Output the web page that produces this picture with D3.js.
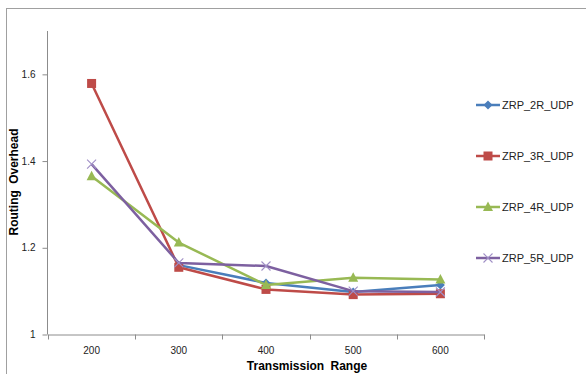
<!DOCTYPE html>
<html lang="en">
	<head>
		<meta charset="utf-8">
		<title>Routing Overhead</title>
		<script src="https://d3js.org/d3.v7.min.js"></script>
		<style>
			body { margin: 0; background: #fff; }
			text { font-family: "Liberation Sans", Arial, sans-serif; }
		</style>
	</head>
	<body>
		<div id="chart"></div>
		<script>
			// data
			var ranges = [200, 300, 400, 500, 600];
			var seriesNames = ['ZRP_2R_UDP', 'ZRP_3R_UDP', 'ZRP_4R_UDP', 'ZRP_5R_UDP'];
			var zrp2r = [null, 1.160, 1.119, 1.098, 1.114];
			var zrp3r = [1.579, 1.155, 1.104, 1.092, 1.094];
			var zrp4r = [1.365, 1.212, 1.114, 1.131, 1.127];
			var zrp5r = [1.393, 1.165, 1.158, 1.100, 1.098];
			var yTicks = [1, 1.2, 1.4, 1.6];

			var colors = ['#4a7ebb', '#be4b48', '#98b954', '#7d60a0'];
			var shapes = ['diamond', 'square', 'triangle', 'cross'];
			var allSeries = [zrp2r, zrp3r, zrp4r, zrp5r];

			var w = 586, h = 374;
			var svg = d3.select('#chart').append('svg')
				.attr('width', w)
				.attr('height', h);

			// outer frame
			svg.append('rect')
				.attr('x', 6.5).attr('y', 8.5)
				.attr('width', 600).attr('height', 400)
				.attr('fill', 'none')
				.attr('stroke', '#a0a0a0');

			var x = d3.scaleBand().domain(ranges).range([48, 484]);
			var y = d3.scaleLinear().domain([1, 1.7]).range([334.5, 31]);

			// x axis
			var xAxis = svg.append('g')
				.attr('transform', 'translate(0,334.5)')
				.call(d3.axisBottom(x).tickSize(0).tickPadding(12));
			xAxis.select('.domain').attr('stroke', '#8c8c8c');
			xAxis.selectAll('text').attr('font-size', 10).attr('fill', '#222');
			xAxis.selectAll('.sep')
				.data(d3.range(ranges.length + 1))
				.enter().append('line')
				.attr('class', 'sep')
				.attr('x1', function (i) { return Math.round(48 + i * x.step()) + 0.5; })
				.attr('x2', function (i) { return Math.round(48 + i * x.step()) + 0.5; })
				.attr('y1', 0).attr('y2', 5)
				.attr('stroke', '#8c8c8c');

			// y axis
			var yAxis = svg.append('g')
				.attr('transform', 'translate(47.5,0)')
				.call(d3.axisLeft(y).tickValues(yTicks).tickSize(5).tickPadding(7)
					.tickFormat(d3.format('')));
			yAxis.select('.domain').attr('stroke', '#8c8c8c').attr('d', 'M0,31V334.5');
			yAxis.selectAll('line').attr('stroke', '#8c8c8c');
			yAxis.selectAll('text').attr('font-size', 10).attr('fill', '#222');

			// axis titles
			svg.append('text')
				.attr('x', 307).attr('y', 370)
				.attr('text-anchor', 'middle')
				.attr('font-size', 12).attr('font-weight', 'bold')
				.attr('word-spacing', 3)
				.text('Transmission Range');
			svg.append('text')
				.attr('transform', 'translate(18,182) rotate(-90)')
				.attr('text-anchor', 'middle')
				.attr('font-size', 12).attr('font-weight', 'bold')
				.attr('word-spacing', 3)
				.text('Routing Overhead');

			function marker(g, shape, color) {
				if (shape === 'diamond') {
					g.append('path').attr('d', 'M0,-4.5L4.5,0L0,4.5L-4.5,0Z').attr('fill', color);
				} else if (shape === 'square') {
					g.append('rect').attr('x', -4.5).attr('y', -4.5).attr('width', 9).attr('height', 9).attr('fill', color);
				} else if (shape === 'triangle') {
					g.append('path').attr('d', 'M0,-5.5L5,4L-5,4Z').attr('fill', color);
				} else {
					g.append('path').attr('d', 'M-4.5,-4.5L4.5,4.5M-4.5,4.5L4.5,-4.5')
						.attr('stroke', '#a08fc6').attr('stroke-width', 1.1);
				}
			}

			var line = d3.line()
				.defined(function (d) { return d.v !== null; })
				.x(function (d) { return x(d.r) + x.bandwidth() / 2; })
				.y(function (d) { return y(d.v); });

			allSeries.forEach(function (s, i) {
				var pts = s.map(function (v, j) { return { r: ranges[j], v: v }; });
				var g = svg.append('g');
				g.append('path')
					.attr('d', line(pts))
					.attr('fill', 'none')
					.attr('stroke', colors[i])
					.attr('stroke-width', 2.5)
					.attr('stroke-linejoin', 'round');
				pts.filter(function (d) { return d.v !== null; }).forEach(function (d) {
					var m = g.append('g')
						.attr('transform', 'translate(' + (x(d.r) + x.bandwidth() / 2) + ',' + y(d.v) + ')');
					marker(m, shapes[i], colors[i]);
				});
			});

			// legend
			var legend = svg.append('g');
			seriesNames.forEach(function (name, i) {
				var ly = 105 + i * 51;
				var item = legend.append('g');
				item.append('line')
					.attr('x1', 476).attr('x2', 500)
					.attr('y1', ly).attr('y2', ly)
					.attr('stroke', colors[i]).attr('stroke-width', 2.5);
				var m = item.append('g').attr('transform', 'translate(488,' + ly + ')');
				marker(m, shapes[i], colors[i]);
				item.append('text')
					.attr('x', 502).attr('y', ly + 4)
					.attr('font-size', 11).attr('fill', '#222')
					.text(name);
			});
		</script>
	</body>
</html>
